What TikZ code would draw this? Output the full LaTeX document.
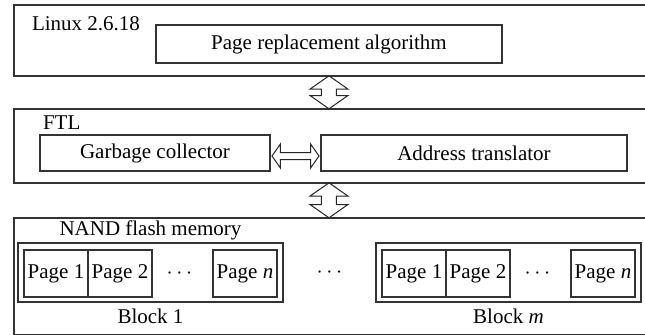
\documentclass[tikz,border=0pt]{standalone}
\usepackage{fontspec}
\setmainfont{Liberation Serif}
\usetikzlibrary{positioning}
\usetikzlibrary{calc}
\usetikzlibrary{shapes.arrows}

\begin{document}
\begin{tikzpicture}[x=0.5pt,y=-0.5pt,
		font=\fontsize{10.5}{12}\selectfont,
		layer/.style={draw=black!80,line width=0.8pt,anchor=north west,inner sep=0pt,minimum width=320pt},
		unit/.style={draw=black!80,line width=0.6pt,inner sep=0pt,outer sep=0pt},
		page/.style={unit,minimum width=32pt,minimum height=23.5pt},
		block/.style={unit,anchor=north west,minimum width=132.5pt,minimum height=29.5pt},
		link/.style={draw=black!85,line width=0.5pt,shape=double arrow,double arrow tip angle=110,inner xsep=0pt}]
		\useasboundingbox (0,0) rectangle (645,334);
		% the three layers, open to the right
		\node[layer,minimum height=35.5pt] (linux) at (13,4) {};
		\node[layer,minimum height=37pt] (ftl) at (13,108) {};
		\node[layer,minimum height=58.5pt] (nand) at (13,217) {};
		\node[anchor=base west] (linuxlbl) at (25,30) {Linux 2.6.18};
		\node[anchor=base west] (ftllbl) at (36,129) {FTL};

		% kernel and FTL parts
		\node[unit,minimum width=173pt,minimum height=19pt] (pra) at (329,44) {Page replacement algorithm};
		\node[unit,minimum width=115pt,minimum height=18pt] (gc) at (155,153) {Garbage collector};
		\node[unit,minimum width=153pt,minimum height=18pt] (at) at (474,153) {Address translator};

		% flash blocks
		\node[block] (b1) at (18,243) {};
		\node[block] (bm) at (376,243) {};
		\foreach \b/\m in {b1/1,bm/\textit{m}}{
			\node[page,anchor=north west] (\b p1) at ($(\b.north west)+(6,7)$) {Page 1};
			\node[page,right=0pt of \b p1] (\b p2) {Page 2};
			\node[page,anchor=north east] (\b pn) at ($(\b.north east)+(-6,7)$) {Page \textit{n}};
			\node (\b dots) at ($(\b p2.east)!.45!(\b pn.west)$) {$\cdots$};
			\node[anchor=base] (\b lbl) at ($(\b.south)+(0,21)$) {Block \m};
		}
		\node (blkdots) at ($(b1.east)!.5!(bm.west)$) {$\cdots$};
		\node[anchor=base] (nandlbl) at ($(b1.north)+(0,-8)$) {NAND flash memory};

		% links between layers
		\node[link,rotate=90,minimum height=16.5pt,minimum width=18.5pt,inner ysep=3.5pt,double arrow head extend=5.75pt]
			(up) at ($(pra.south |- linux.south)!.5!(pra.south |- ftl.north)$) {};
		\node[link,rotate=90,minimum height=17.5pt,minimum width=18.5pt,inner ysep=3.5pt,double arrow head extend=5.75pt]
			(down) at ($(pra.south |- ftl.south)!.5!(pra.south |- nand.north)$) {};
		\node[link,minimum height=23.5pt,minimum width=11.5pt,inner ysep=1.5pt,double arrow head extend=4.25pt]
			(gcat) at ($(gc.east)!.5!(at.west)+(0,3)$) {};
\end{tikzpicture}
\end{document}
